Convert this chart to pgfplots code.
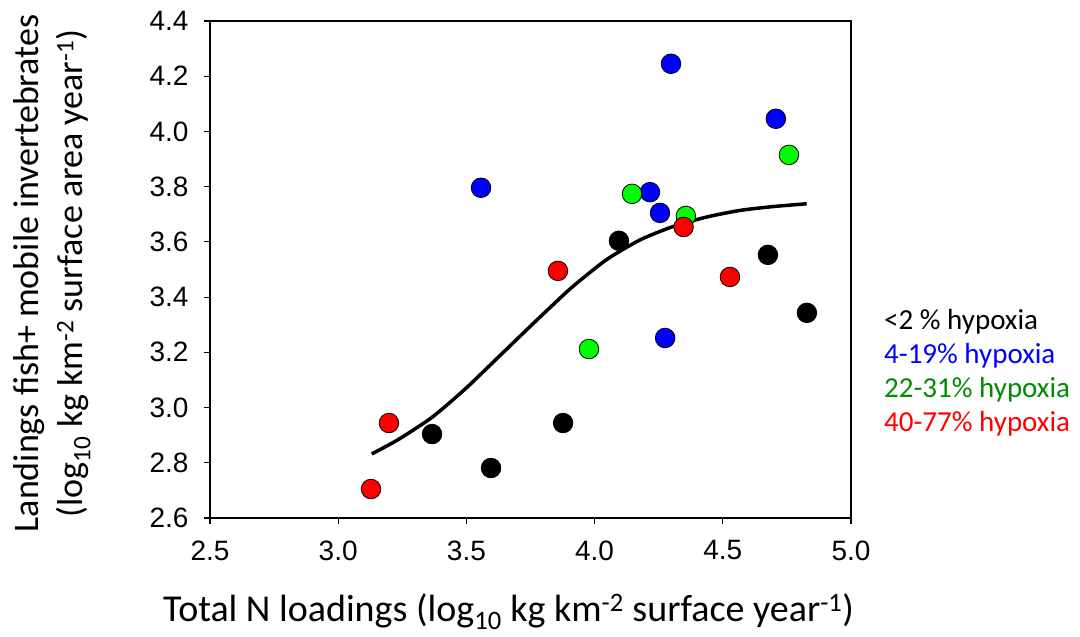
\documentclass[border=0pt]{standalone}
\usepackage{fontspec}
\setmainfont{Carlito}
\newfontfamily\arialfont{Liberation Sans}
\usepackage{pgfplots}
\pgfplotsset{compat=1.18}
\definecolor{ptblue}{RGB}{0,0,255}
\definecolor{ptgreen}{RGB}{0,255,0}
\definecolor{ptred}{RGB}{255,0,0}
\definecolor{txtgreen}{RGB}{0,140,0}
\begin{document}
\begin{tikzpicture}[x=1pt,y=1pt]
\useasboundingbox (-210,-119) rectangle (870,518);
\begin{axis}[
  at={(0,0)}, anchor=south west,
  width=641pt, height=497pt, scale only axis,
  xmin=2.5, xmax=5.0, ymin=2.6, ymax=4.4,
  xtick={2.5,3.0,...,5.0}, ytick={2.6,2.8,...,4.4},
  tick align=outside, xtick pos=bottom, ytick pos=left,
  major tick length=6pt,
  axis line style={line width=1.2pt},
  tick style={line width=1.2pt, black},
  /pgf/number format/assume math mode=true,
  /pgf/number format/.cd, fixed, fixed zerofill, precision=1, /pgfplots/.cd,
  tick label style={font=\arialfont\fontsize{28}{33}\selectfont},
  xticklabel style={yshift=-13pt},
  yticklabel style={xshift=-12pt},
  xlabel={Total N loadings (log\textsubscript{10} kg km\textsuperscript{-2} surface year\textsuperscript{-1})},
  xlabel style={font=\fontsize{38}{45}\selectfont, at={(rel axis cs:0.4657,0)}, anchor=base, yshift=-103pt},
  ylabel={Landings fish+ mobile invertebrates\\(log\textsubscript{10} kg km\textsuperscript{-2} surface area year\textsuperscript{-1})},
  ylabel style={font=\fontsize{36}{44}\selectfont, align=center, at={(rel axis cs:0,0.492)}, anchor=center, yshift=158pt},
  clip=false,
]
\addplot[line width=3.5pt, smooth, tension=0.4] coordinates {
 (3.131,2.832) (3.234,2.884) (3.365,2.964) (3.495,3.067) (3.624,3.182)
 (3.741,3.287) (3.826,3.362) (3.917,3.440) (4.047,3.536) (4.177,3.607)
 (4.307,3.656) (4.437,3.690) (4.567,3.714) (4.697,3.728) (4.827,3.738)};
% black <2%
\addplot[only marks, mark=*, mark size=9.8pt, mark options={fill=black, draw=black, line width=0.8pt}] coordinates {
 (3.366,2.904) (3.596,2.781) (3.877,2.944) (4.095,3.604) (4.676,3.553) (4.828,3.343)};
% blue 4-19%
\addplot[only marks, mark=*, mark size=9.8pt, mark options={fill=ptblue, draw=black, line width=0.8pt}] coordinates {
 (3.557,3.796) (4.298,4.245) (4.707,4.046) (4.216,3.780) (4.255,3.705) (4.275,3.252)};
% green 22-31%
\addplot[only marks, mark=*, mark size=9.8pt, mark options={fill=ptgreen, draw=black, line width=0.8pt}] coordinates {
 (4.146,3.774) (4.356,3.694) (4.758,3.915) (3.978,3.212)};
% red 40-77%
\addplot[only marks, mark=*, mark size=9.8pt, mark options={fill=ptred, draw=black, line width=0.8pt}] coordinates {
 (4.347,3.654) (3.857,3.495) (4.528,3.473) (3.198,2.944) (3.128,2.705)};
\end{axis}
\begin{scope}[every node/.style={anchor=base west, inner sep=0pt, font=\fontsize{29}{34}\selectfont}]
\node[text=black] at (674,188) {<2 \% hypoxia};
\node[text=ptblue] at (674,154) {4-19\% hypoxia};
\node[text=txtgreen] at (674,120) {22-31\% hypoxia};
\node[text=ptred] at (674,86) {40-77\% hypoxia};
\end{scope}
\end{tikzpicture}
\end{document}
